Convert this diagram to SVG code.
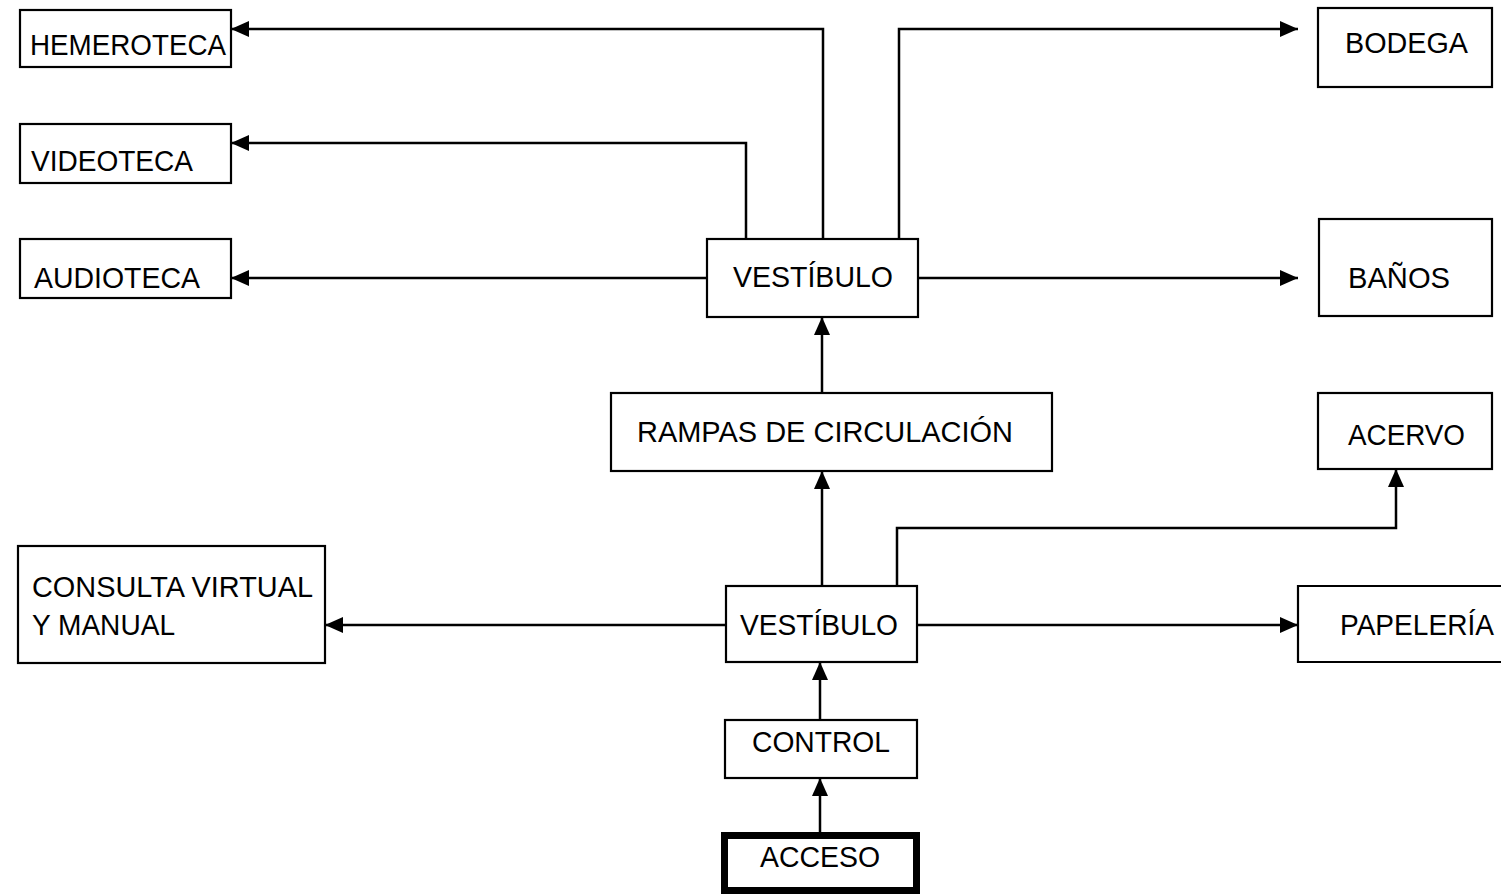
<svg xmlns="http://www.w3.org/2000/svg" width="1501" height="895" viewBox="0 0 1501 895">
<style>
.box{fill:#fff;stroke:#000;stroke-width:2.2}
.thick{fill:#fff;stroke:#000;stroke-width:7}
.lbl{font-family:"Liberation Sans",Arial,sans-serif;font-size:30px;fill:#000}
.con{fill:none;stroke:#000;stroke-width:2.5;marker-end:url(#ah)}
</style>
<defs>
<marker id="ah" markerUnits="userSpaceOnUse" markerWidth="18" markerHeight="16" refX="18" refY="8" orient="auto">
<path d="M0,0 L18,8 L0,16 Z" fill="#000"/>
</marker>
</defs>
<rect width="1501" height="895" fill="#fff"/>
<g id="connectors">
<path class="con" d="M823,239 V29 H231"/>
<path class="con" d="M746,239 V143 H231"/>
<path class="con" d="M707,278 H231"/>
<path class="con" d="M899,239 V29 H1298"/>
<path class="con" d="M918,278 H1298"/>
<path class="con" d="M822,393 V317"/>
<path class="con" d="M822,586 V471"/>
<path class="con" d="M897,586 V528 H1396 V469"/>
<path class="con" d="M726,625 H325"/>
<path class="con" d="M917,625 H1298"/>
<path class="con" d="M820,720 V662"/>
<path class="con" d="M820,832 V778"/>
</g>
<g id="hemeroteca"><rect class="box" x="20" y="10" width="211" height="57"/><text class="lbl" x="30" y="55" textLength="196" lengthAdjust="spacingAndGlyphs">HEMEROTECA</text></g>
<g id="videoteca"><rect class="box" x="20" y="124" width="211" height="59"/><text class="lbl" x="31" y="171" textLength="162" lengthAdjust="spacingAndGlyphs">VIDEOTECA</text></g>
<g id="audioteca"><rect class="box" x="20" y="239" width="211" height="59"/><text class="lbl" x="34" y="288" textLength="166" lengthAdjust="spacingAndGlyphs">AUDIOTECA</text></g>
<g id="vestibulo-sup"><rect class="box" x="707" y="239" width="211" height="78"/><text class="lbl" x="733" y="287" textLength="160" lengthAdjust="spacingAndGlyphs">VESTÍBULO</text></g>
<g id="bodega"><rect class="box" x="1318" y="8" width="174" height="79"/><text class="lbl" x="1345" y="53" textLength="123" lengthAdjust="spacingAndGlyphs">BODEGA</text></g>
<g id="banos"><rect class="box" x="1319" y="219" width="173" height="97"/><text class="lbl" x="1348" y="288" textLength="102" lengthAdjust="spacingAndGlyphs">BAÑOS</text></g>
<g id="rampas"><rect class="box" x="611" y="393" width="441" height="78"/><text class="lbl" x="637" y="442" textLength="376" lengthAdjust="spacingAndGlyphs">RAMPAS DE CIRCULACIÓN</text></g>
<g id="acervo"><rect class="box" x="1318" y="393" width="174" height="76"/><text class="lbl" x="1348" y="445" textLength="117" lengthAdjust="spacingAndGlyphs">ACERVO</text></g>
<g id="consulta"><rect class="box" x="18" y="546" width="307" height="117"/><text class="lbl" x="32" y="597" textLength="281" lengthAdjust="spacingAndGlyphs">CONSULTA VIRTUAL</text><text class="lbl" x="32" y="635" textLength="143" lengthAdjust="spacingAndGlyphs">Y MANUAL</text></g>
<g id="vestibulo-inf"><rect class="box" x="726" y="586" width="191" height="76"/><text class="lbl" x="740" y="635" textLength="158" lengthAdjust="spacingAndGlyphs">VESTÍBULO</text></g>
<g id="papeleria"><path class="box" d="M1501,586 H1298 V662 H1501"/><text class="lbl" x="1340" y="635" textLength="154" lengthAdjust="spacingAndGlyphs">PAPELERÍA</text></g>
<g id="control"><rect class="box" x="725" y="720" width="192" height="58"/><text class="lbl" x="752" y="752" textLength="138" lengthAdjust="spacingAndGlyphs">CONTROL</text></g>
<g id="acceso"><rect class="thick" x="724.5" y="835.5" width="192" height="55"/><text class="lbl" x="760" y="867" textLength="120" lengthAdjust="spacingAndGlyphs">ACCESO</text></g>
</svg>
